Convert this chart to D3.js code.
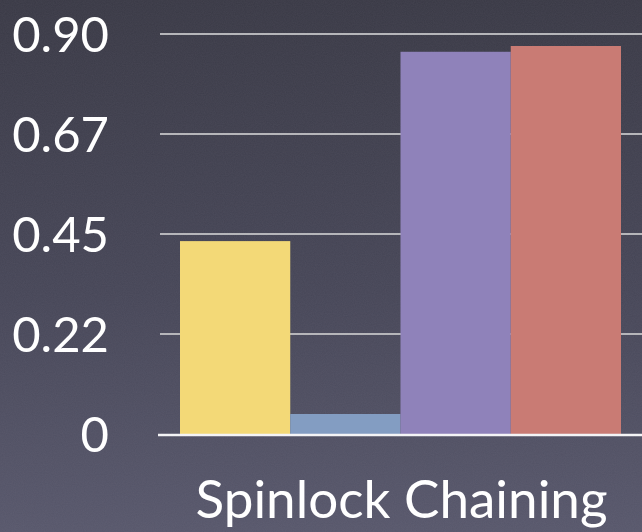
<!DOCTYPE html>
<html>
<head>
<meta charset="utf-8">
<script src="https://cdn.jsdelivr.net/npm/d3@7"></script>
<style>
  html, body { margin: 0; padding: 0; background: #3c3c4a; }
  svg { display: block; }
</style>
</head>
<body>
<svg id="chart" width="642" height="532"></svg>
<script>
// Single category, four series
const categories = ["Spinlock Chaining"];
const seriesNames = ["A", "B", "C", "D"];
const seriesValues = [0.434, 0.045, 0.86, 0.873];
const seriesColors = ["#f3d977", "#839dc2", "#8f82ba", "#c97b74"];
const tickValues = [0, 0.225, 0.45, 0.675, 0.9];
const tickLabels = ["0", "0.22", "0.45", "0.67", "0.90"];

const W = 642, H = 532;
const svg = d3.select("#chart");
const defs = svg.append("defs");

// Background gradient
const bg = defs.append("linearGradient").attr("id", "bg")
  .attr("x1", 0).attr("y1", 0).attr("x2", 0).attr("y2", 1);
bg.append("stop").attr("offset", "0%").attr("stop-color", "#393945");
bg.append("stop").attr("offset", "55%").attr("stop-color", "#464657");
bg.append("stop").attr("offset", "100%").attr("stop-color", "#57576b");

// Faint grain over the backdrop
const grain = defs.append("filter").attr("id", "grain")
  .attr("x", 0).attr("y", 0).attr("width", "100%").attr("height", "100%");
grain.append("feTurbulence").attr("type", "fractalNoise")
  .attr("baseFrequency", "0.9").attr("numOctaves", 2).attr("seed", 3).attr("result", "n");
grain.append("feColorMatrix").attr("in", "n").attr("type", "matrix")
  .attr("values", "0 0 0 0 0.5  0 0 0 0 0.45  0 0 0 0 0.55  0 0 0 0.08 0");

svg.append("rect").attr("width", W).attr("height", H).attr("fill", "url(#bg)");
svg.append("rect").attr("width", W).attr("height", H).attr("filter", "url(#grain)");

const y = d3.scaleLinear().domain([0, 0.9]).range([434, 34]);
const x0 = d3.scaleBand().domain(categories).range([180, 621]).padding(0);
const x1 = d3.scaleBand().domain(seriesNames).range([0, x0.bandwidth()]).padding(0);

// Gridlines (above zero)
svg.append("g").selectAll("line")
  .data(tickValues.filter(v => v > 0))
  .join("line")
  .attr("x1", 160).attr("x2", W)
  .attr("y1", d => y(d)).attr("y2", d => y(d))
  .attr("stroke", "#b6b6ba").attr("stroke-width", 2);

// Bars
const data = seriesNames.map((s, i) => ({ cat: categories[0], s, v: seriesValues[i], c: seriesColors[i] }));
svg.append("g").selectAll("rect")
  .data(data)
  .join("rect")
  .attr("x", d => x0(d.cat) + x1(d.s))
  .attr("width", x1.bandwidth())
  .attr("y", d => y(d.v))
  .attr("height", d => y(0) - y(d.v))
  .attr("fill", d => d.c);

// Baseline
svg.append("line")
  .attr("x1", 158).attr("x2", W)
  .attr("y1", y(0) + 1).attr("y2", y(0) + 1)
  .attr("stroke", "#f4f4f6").attr("stroke-width", 2.5);

// Y axis labels
const yAxis = d3.axisLeft(y).tickValues(tickValues)
  .tickFormat((d, i) => tickLabels[i]).tickSize(0).tickPadding(0);
const gy = svg.append("g").attr("transform", "translate(109,0)").call(yAxis);
gy.select(".domain").remove();
gy.selectAll("text")
  .attr("fill", "#ffffff")
  .attr("font-family", "'Lato', 'Open Sans', sans-serif")
  .attr("font-size", 49)
  .attr("dy", "0.36em");

// Category label
svg.append("g").selectAll("text")
  .data(categories)
  .join("text")
  .attr("x", d => x0(d) + x0.bandwidth() / 2 + 1)
  .attr("y", 518)
  .attr("text-anchor", "middle")
  .attr("fill", "#ffffff")
  .attr("font-family", "'Lato', 'Open Sans', sans-serif")
  .attr("font-size", 53)
  .text(d => d);
</script>
</body>
</html>
